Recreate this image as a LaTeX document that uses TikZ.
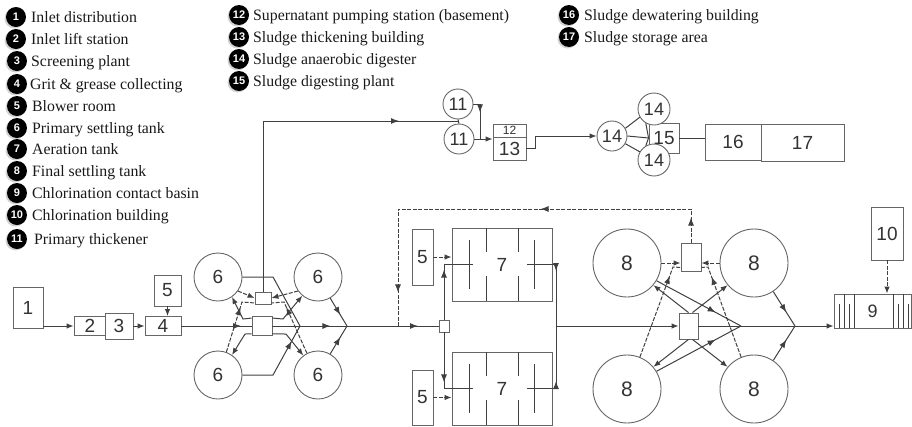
\documentclass[tikz,border=0pt]{standalone}
\usepackage{fontspec}
\setmainfont{Liberation Serif}
\setsansfont{Liberation Sans}
\usetikzlibrary{arrows.meta,decorations.markings,shadows}
\definecolor{linegray}{HTML}{404040}
\definecolor{unitgray}{HTML}{666666}
\tikzset{
    unit/.style={draw=unitgray,line width=0.9pt,fill=white,inner sep=0pt,font=\sffamily\fontsize{19}{19}\selectfont,text=black!80},
    boxunit/.style={unit,rectangle,minimum width=#1},
    tank/.style={unit,circle,minimum size=#1},
    flow/.style={draw=linegray,line width=1pt},
    tip/.style={-{Latex[length=7pt,width=5.5pt]}},
    back/.style={flow,dashed,dash pattern=on 4pt off 1.5pt},
    mid/.style={postaction={decorate,decoration={markings,mark=at position #1 with {\arrow{Latex[length=8pt,width=6pt]}}}}},
    badge/.style={circle,fill=black,text=white,inner sep=0pt,minimum size=20pt,font=\sffamily\bfseries\fontsize{#1}{#1}\selectfont,drop shadow={shadow xshift=-1.5pt,shadow yshift=-1.5pt,opacity=0.35}},
    legend/.style={anchor=base west,inner sep=0pt,font=\fontsize{15.8}{15.8}\selectfont,text=black!90}
}
\begin{document}
\begin{tikzpicture}[x=1pt,y=-1pt]
    \useasboundingbox (0,0) rectangle (912,426);
    % legend
    \foreach \x/\tx/\y/\n/\t in {16/31/17/1/Inlet distribution,16/31/39/2/Inlet lift station,17/31/61/3/Screening plant,17/30/84/4/Grit \& grease collecting,17/32/106/5/Blower room,17/32/128/6/Primary settling tank,17/32/149/7/Aeration tank,17/32/171/8/Final settling tank,17/32/193/9/Chlorination contact basin,17/32/215/10/Chlorination building,17/34/239/11/Primary thickener,239/253/15/12/Supernatant pumping station (basement),239/253/37/13/Sludge thickening building,239/253/59/14/Sludge anaerobic digester,239/253/81/15/Sludge digesting plant,569/584/15/16/Sludge dewatering building,569/584/37/17/Sludge storage area}{
        \node[badge=11] (b\n) at (\x,\y) {\n};
        \node[legend] (l\n) at (\tx,\y+5) {\t};
    }
    % inlet units
    \node[boxunit=30pt,minimum height=41pt] (n1) at (28,307.5) {1};
    \node[boxunit=32pt,minimum height=19pt] (n2) at (90,326) {2};
    \node[boxunit=28pt,minimum height=26pt] (n3) at (119,326) {3};
    \node[boxunit=36pt,minimum height=19pt] (n4) at (163,326) {4};
    \node[boxunit=27pt,minimum height=31pt] (n5a) at (167.5,290.5) {5};
    \draw[flow,tip] (n1.south east |- n2.west) -- (n2.west);
    \draw[flow,tip] (n3.east) -- (n4.west);
    \draw[flow,tip] (n5a.south) -- (n5a.south |- n4.north);
    % primary settling
    \node[tank=48pt] (tank6a) at (218,277) {6};
    \node[tank=48pt] (tank6b) at (318,277) {6};
    \node[tank=48pt] (tank6c) at (218,375) {6};
    \node[tank=48pt] (tank6d) at (318,375) {6};
    \node[boxunit=16pt,minimum height=12pt] (pump6) at (263,298) {};
    \node[boxunit=20pt,minimum height=19pt] (dist6) at (262,326) {};
    \coordinate (j0) at (300,326);
    \coordinate (j6) at (347,326);
    \coordinate (k6a) at (273,277);
    \coordinate (k6c) at (273,375);
    \coordinate (k6d) at (242,302);
    \coordinate (k6e) at (284,302);
    \coordinate (k6f) at (243,319);
    \coordinate (k6g) at (283,319);
    \coordinate (k6h) at (245,334);
    \coordinate (k6i) at (286,334);
    \draw[flow,mid=0.85] (n4.east) -- (dist6.west);
    \draw[flow] (tank6a.east) -- (k6a) -- (j0);
    \draw[flow,mid=0.8] (tank6c.east) -- (k6c) -- (j0);
    \draw[flow,mid=0.6] (tank6b.-60) -- (j6);
    \draw[flow,mid=0.6] (tank6d.60) -- (j6);
    \draw[back,tip] (tank6a.-35) -- (pump6.west);
    \draw[back,tip] (tank6b.-145) -- (pump6.east);
    \draw[back,mid=-18pt] (tank6c.70) -- (k6d) -- ([yshift=1.5pt]pump6.south west);
    \draw[back,mid=-18pt] (tank6d.117) -- (k6e) -- ([yshift=1.5pt]pump6.south east);
    \draw[flow,tip] ([yshift=-2pt]dist6.north west) -- (k6f) -- (tank6a.-55);
    \draw[flow,tip] ([yshift=-2pt]dist6.north east) -- (k6g) -- (tank6b.-130);
    \draw[flow,tip] ([yshift=2pt]dist6.south west) -- (k6h) -- (tank6c.55);
    \draw[flow,tip] ([yshift=2pt]dist6.south east) -- (k6i) -- (tank6d.127);
    % sludge line
    \node[tank=30pt,font=\sffamily\fontsize{18}{18}\selectfont] (t11a) at (458,104) {11};
    \node[tank=30pt,font=\sffamily\fontsize{18}{18}\selectfont] (t11b) at (459,139) {11};
    \node[boxunit=33pt,minimum height=13pt,font=\sffamily\fontsize{12}{12}\selectfont] (n12) at (509.5,130.5) {12};
    \node[boxunit=33pt,minimum height=23pt] (n13) at (509.5,148.5) {13};
    \node[boxunit=30pt,minimum height=30pt] (n15) at (664,138) {15};
    \node[tank=30pt,font=\sffamily\fontsize{18}{18}\selectfont] (d14a) at (612,136) {14};
    \node[tank=32pt,font=\sffamily\fontsize{18}{18}\selectfont] (d14b) at (654,109) {14};
    \node[tank=32pt,font=\sffamily\fontsize{18}{18}\selectfont] (d14c) at (654,160) {14};
    \node[boxunit=56pt,minimum height=36pt] (n16) at (733,142) {16};
    \node[boxunit=83pt,minimum height=37pt] (n17) at (802.5,142.5) {17};
    \coordinate (j11) at (459,121);
    \coordinate (k11) at (480,104);
    \draw[flow,mid=-60pt] (pump6.north) -- (pump6.north |- j11) -- (j11);
    \draw[flow] (t11a.south) -- (t11b.north);
    \draw[flow,mid=15pt] (t11a.east) -- (k11) -- (k11 |- t11b.east);
    \draw[flow,tip] (t11b.east) -- (t11b.east -| n13.west);
    \draw[flow,tip] (n13.east) -- ++(9,0) |- (d14a.west);
    \draw[flow] (d14a.30) -- (d14b.210);
    \draw[flow] (d14a.-30) -- (d14c.150);
    \draw[flow] (d14a.east) -- (n15.west);
    \draw[flow] (n15.west) -- (d14b.240);
    \draw[flow] (n15.west) -- (d14c.120);
    \draw[flow] (n15.east) -- (n15.east -| n16.west);
    % aeration
    \node[boxunit=21pt,minimum height=56pt] (n5b) at (422.5,257) {5};
    \node[boxunit=21pt,minimum height=55pt] (n5c) at (422.5,397.5) {5};
    \node[boxunit=10pt,minimum height=12pt] (split7) at (444,326) {};
    \node[boxunit=100pt,minimum height=73pt] (tank7a) at (502,264.5) {};
    \node[boxunit=100pt,minimum height=73pt] (tank7b) at (502,388.5) {};
    \node[inner sep=0pt,font=\sffamily\fontsize{19}{19}\selectfont,text=black!80] (lab7a) at (tank7a) {7};
    \node[inner sep=0pt,font=\sffamily\fontsize{19}{19}\selectfont,text=black!80] (lab7b) at (tank7b) {7};
    \foreach \y in {228,352}{
        \draw[flow] (486,\y) -- ++(0,24) (518,\y) -- ++(0,24);
        \draw[flow] (486,\y+48) -- ++(0,25) (518,\y+48) -- ++(0,25);
        \draw[flow] (469,\y+12) -- ++(0,49) (534,\y+12) -- ++(0,49);
    }
    \coordinate (ret) at (398,326);
    \coordinate (retup) at (398,209);
    \coordinate (in7a) at (473,264);
    \coordinate (in7b) at (473,388);
    \coordinate (out7a) at (527,264);
    \coordinate (out7b) at (527,388);
    \coordinate (col7) at (556,326);
    \draw[flow,mid=58pt] (dist6.east) -- (ret);
    \draw[flow,mid=20pt] (ret) -- (split7.west);
    \draw[flow,mid=50pt] (split7.north) -- (split7.north |- in7a) -- (in7a);
    \draw[flow,mid=50pt] (split7.south) -- (split7.south |- in7b) -- (in7b);
    \draw[flow,mid=36pt] (out7a) -| (col7);
    \draw[flow,mid=36pt] (out7b) -| (col7);
    \draw[back,tip] (n5b.east) -- (n5b.east -| tank7a.west);
    \draw[back,tip] (n5c.east) -- (n5c.east -| tank7b.west);
    % final settling
    \node[tank=68pt,font=\sffamily\fontsize{21}{21}\selectfont] (tank8a) at (627,263) {8};
    \node[tank=68pt,font=\sffamily\fontsize{21}{21}\selectfont] (tank8b) at (754,263) {8};
    \node[tank=68pt,font=\sffamily\fontsize{21}{21}\selectfont] (tank8c) at (627,389) {8};
    \node[tank=68pt,font=\sffamily\fontsize{21}{21}\selectfont] (tank8d) at (754,389) {8};
    \node[boxunit=20pt,minimum height=28pt] (sc8) at (691,257) {};
    \node[boxunit=19pt,minimum height=26pt] (dist8) at (688.5,326) {};
    \coordinate (j7) at (741,326);
    \coordinate (j8) at (795,326);
    \coordinate (k8a) at (673,267);
    \coordinate (k8b) at (708,267);
    \draw[flow,tip] (col7) -- (dist8.west);
    \draw[back,mid=25pt,mid=184pt,mid=410pt] (sc8.north) |- (retup) -- (ret);
    \draw[back,tip] (tank8a.east) -- (tank8a.east -| sc8.west);
    \draw[back,tip] (tank8b.west) -- (tank8b.west -| sc8.east);
    \draw[back,mid=-17pt] (tank8c.68) -- (k8a) -- ([yshift=4pt]sc8.south west);
    \draw[back,mid=-17pt] (tank8d.112) -- (k8b) -- ([yshift=4pt]sc8.south east);
    \draw[flow,tip] (dist8.north) -- (tank8a.-40);
    \draw[flow,tip] ([xshift=4pt]dist8.north) -- (tank8b.-140);
    \draw[flow,tip] (dist8.south) -- (tank8c.40);
    \draw[flow,tip] ([xshift=4pt]dist8.south) -- (tank8d.140);
    \draw[flow,mid=0.7] (tank8a.-31) -- (j7);
    \draw[flow,mid=0.7] (tank8c.31) -- (j7);
    \draw[flow,mid=0.6] (tank8b.-56) -- (j8);
    \draw[flow,mid=0.6] (tank8d.56) -- (j8);
    % chlorination
    \node[boxunit=77pt,minimum height=34pt,font=\sffamily\fontsize{18}{18}\selectfont] (n9) at (872.5,311) {9};
    \node[boxunit=32pt,minimum height=53pt] (n10) at (887,233.5) {10};
    \foreach \x in {844,854,893,903}{
        \draw[flow] (\x,294) -- (\x,328);
    }
    \foreach \x in {839,849,898,908}{
        \draw[flow] (\x,304) -- (\x,328);
    }
    \draw[flow] (dist8.east) -- (j8);
    \draw[flow,tip] (j8) -- (j8 -| n9.west);
    \draw[back,tip] (n10.south) -- (n9.north -| n10.south);
\end{tikzpicture}
\end{document}
